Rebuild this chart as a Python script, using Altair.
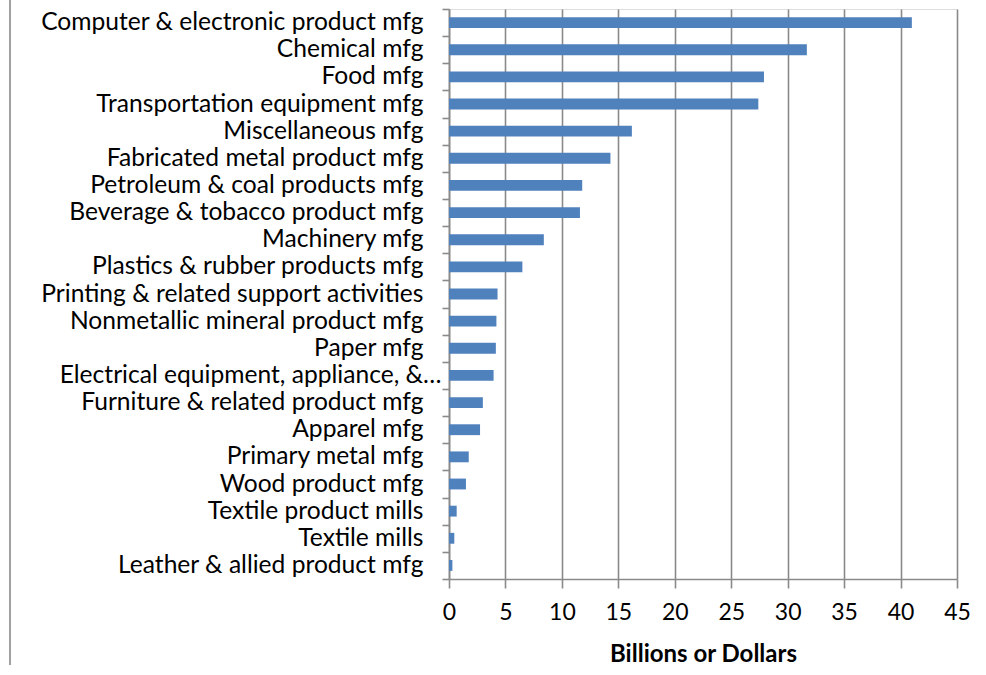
import altair as alt
import pandas as pd

# Manufacturing industries, top to bottom
industries = [
    "Computer & electronic product mfg",
    "Chemical mfg",
    "Food mfg",
    "Transportation equipment mfg",
    "Miscellaneous mfg",
    "Fabricated metal product mfg",
    "Petroleum & coal products mfg",
    "Beverage & tobacco product mfg",
    "Machinery mfg",
    "Plastics & rubber products mfg",
    "Printing & related support activities",
    "Nonmetallic mineral product mfg",
    "Paper mfg",
    "Electrical equipment, appliance, &…",
    "Furniture & related product mfg",
    "Apparel mfg",
    "Primary metal mfg",
    "Wood product mfg",
    "Textile product mills",
    "Textile mills",
    "Leather & allied product mfg",
]

# Value in billions of dollars
billions = [
    41.0, 31.7, 27.9, 27.4, 16.2, 14.3, 11.8, 11.6, 8.4, 6.5,
    4.3, 4.2, 4.15, 3.95, 3.0, 2.75, 1.75, 1.5, 0.68, 0.47, 0.3,
]

x_ticks = list(range(0, 50, 5))

df = pd.DataFrame({"industry": industries, "value": billions})

FONT = "Lato"
GRAY = "#8a8a8a"
truncated = industries[13]

bars = alt.Chart(df).mark_bar(color="#4F81BD", height={"band": 0.4}).encode(
    x=alt.X(
        "value:Q",
        scale=alt.Scale(domain=[0, 45], nice=False, zero=True),
        axis=alt.Axis(
            values=x_ticks,
            title="Billions or Dollars",
            titleFont=FONT,
            titleFontSize=24,
            titleFontWeight="bold",
            titleColor="#000000",
            titlePadding=18,
            labelFont=FONT,
            labelFontSize=23,
            labelColor="#000000",
            labelPadding=13,
            labelFlush=False,
            grid=True,
            gridColor=GRAY,
            gridWidth=1.6,
            domainColor=GRAY,
            domainWidth=1.6,
            tickColor=GRAY,
            tickWidth=1.6,
            tickSize=9,
        ),
    ),
    y=alt.Y(
        "industry:N",
        sort=industries,
        scale=alt.Scale(paddingInner=0, paddingOuter=0),
        axis=alt.Axis(
            title=None,
            tickBand="extent",
            grid=False,
            labelFont=FONT,
            labelFontSize=24.6,
            labelColor="#000000",
            labelLimit=0,
            labelPadding={
                "condition": {"test": f"datum.value === '{truncated}'", "value": 1},
                "value": 19,
            },
            domainColor=GRAY,
            domainWidth=1.6,
            tickColor=GRAY,
            tickWidth=1.6,
            tickSize=7,
        ),
    ),
)

# Thin border on the left edge of the chart area
border = alt.Chart(pd.DataFrame({"edge": [0]})).mark_rule(
    color=GRAY, strokeWidth=1.6
).encode(x=alt.value(-439), y=alt.value(-9), y2=alt.value(656))

chart = (
    alt.layer(bars, border)
    .properties(
        width=508,
        height=570,
        autosize=alt.AutoSizeParams(type="none"),
        padding={"left": 449, "top": 9, "right": 29, "bottom": 96},
    )
    .configure_view(stroke=None)
    .configure(background="white")
)

chart.save("out.html", embed_options={"renderer": "svg", "actions": False})
